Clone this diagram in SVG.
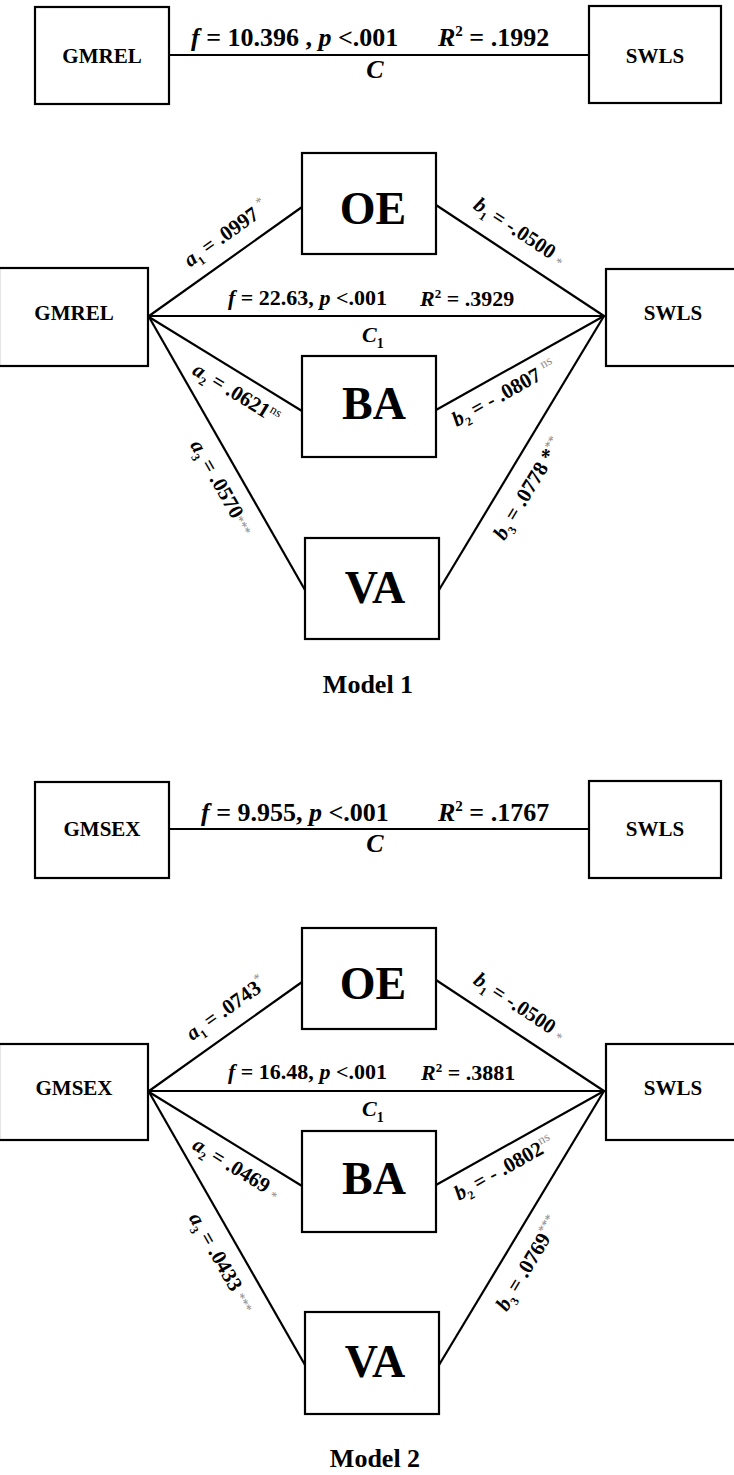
<svg xmlns="http://www.w3.org/2000/svg" width="734" height="1475" viewBox="0 0 734 1475">
<style>
.box{fill:#fff;stroke:#000;stroke-width:2.2}
.ln{stroke:#000;stroke-width:2.2;fill:none}
text{font-family:"Liberation Serif","Times New Roman",serif;font-weight:bold;fill:#000}
.nm{font-size:21px;text-anchor:middle}
.big{font-size:46px;text-anchor:middle}
.lb{font-size:21px;text-anchor:middle}
.st{font-size:22px}
.st2{font-size:26px}
.i{font-style:italic}
.sb{font-size:12px}
.sp{font-size:13px;fill:#8a8a8a;font-weight:normal}
.spk{font-size:13px;font-weight:normal}
.ttl{font-size:26px;text-anchor:middle}
</style>
<rect width="734" height="1475" fill="#fff"/>
<g id="connectors">
  <path class="ln" d="M169 55H589"/>
  <path class="ln" d="M148 316H606"/>
  <path class="ln" d="M149 316L302 207"/>
  <path class="ln" d="M436 205L604 316"/>
  <path class="ln" d="M149 317L302 411"/>
  <path class="ln" d="M436 410L604 316"/>
  <path class="ln" d="M149 317L305 590"/>
  <path class="ln" d="M439 590L604 316"/>
  <path class="ln" d="M169 829H589"/>
  <path class="ln" d="M148 1091H606"/>
  <path class="ln" d="M149 1091L302 982"/>
  <path class="ln" d="M436 980L604 1091"/>
  <path class="ln" d="M149 1092L302 1186"/>
  <path class="ln" d="M436 1185L604 1091"/>
  <path class="ln" d="M149 1092L305 1365"/>
  <path class="ln" d="M439 1365L604 1091"/>
</g>
<g id="gmrel-top"><rect class="box" x="35" y="7" width="134" height="97"/><text class="nm" x="102" y="63">GMREL</text></g>
<g id="swls-top"><rect class="box" x="589" y="6" width="132" height="97"/><text class="nm" x="655" y="63">SWLS</text></g>
<g id="labels-top">
  <text class="st2" x="191" y="46"><tspan class="i">f</tspan> = 10.396 , <tspan class="i">p</tspan> &lt;.001</text>
  <text class="st2" x="438" y="46"><tspan class="i">R</tspan><tspan font-size="15" dy="-10">2</tspan><tspan dy="10"> = .1992</tspan></text>
  <text class="st2 i" x="375" y="78" text-anchor="middle">C</text>
</g>
<g id="gmrel-m1"><rect class="box" x="-1" y="268" width="149" height="98"/><text class="nm" x="74" y="320">GMREL</text></g>
<g id="swls-m1"><rect class="box" x="606" y="269" width="130" height="97"/><text class="nm" x="673" y="320">SWLS</text></g>
<g id="oe-m1"><rect class="box" x="302" y="153" width="134" height="101"/><text class="big" x="373" y="224">OE</text></g>
<g id="ba-m1"><rect class="box" x="302" y="356" width="134" height="101"/><text class="big" x="374" y="419">BA</text></g>
<g id="va-m1"><rect class="box" x="305" y="538" width="134" height="101"/><text class="big" x="375" y="603">VA</text></g>
<g id="labels-m1">
  <text class="st" x="228" y="305"><tspan class="i">f</tspan> = 22.63, <tspan class="i">p</tspan> &lt;.001</text>
  <text class="st" x="420" y="306"><tspan class="i">R</tspan><tspan font-size="13" dy="-8">2</tspan><tspan dy="8"> = .3929</tspan></text>
  <text class="st" x="362" y="342"><tspan class="i">C</tspan><tspan font-size="14" dy="6">1</tspan></text>
  <text class="lb" transform="translate(230 239) rotate(-35.5)"><tspan class="i">a</tspan><tspan class="sb" dy="5">1</tspan><tspan dy="-5"> = .0997 </tspan><tspan class="sp" dy="-9">*</tspan></text>
  <text class="lb" transform="translate(516 237) rotate(33.5)"><tspan class="i">b</tspan><tspan class="sb" dy="5">1</tspan><tspan dy="-5"> = -.0500 </tspan><tspan class="sp" dy="2">*</tspan></text>
  <text class="lb" transform="translate(233 399) rotate(31.6)"><tspan class="i">a</tspan><tspan class="sb" dy="5">2</tspan><tspan dy="-5"> = .0621</tspan><tspan class="spk" dy="-8">ns</tspan></text>
  <text class="lb" transform="translate(216 491) rotate(60.3)"><tspan class="i">a</tspan><tspan class="sb" dy="5">3</tspan><tspan dy="-5"> = .0570</tspan><tspan class="sp" dy="-2">***</tspan></text>
  <text class="lb" transform="translate(507 399) rotate(-29.2)"><tspan class="i">b</tspan><tspan class="sb" dy="5">2</tspan><tspan dy="-5"> = - .0807 </tspan><tspan class="sp" dy="-9">ns</tspan></text>
  <text class="lb" transform="translate(534 492) rotate(-58.9)"><tspan class="i">b</tspan><tspan class="sb" dy="5">3</tspan><tspan dy="-5"> = .0778 *</tspan><tspan class="sp" dy="-7">**</tspan></text>
</g>
<g id="title-m1"><text class="ttl" x="368" y="693">Model 1</text></g>
<g id="gmsex-top"><rect class="box" x="35" y="782" width="134" height="96"/><text class="nm" x="102" y="836">GMSEX</text></g>
<g id="swls-top2"><rect class="box" x="589" y="781" width="132" height="97"/><text class="nm" x="655" y="836">SWLS</text></g>
<g id="labels-top2">
  <text class="st2" x="201" y="821"><tspan class="i">f</tspan> = 9.955, <tspan class="i">p</tspan> &lt;.001</text>
  <text class="st2" x="438" y="821"><tspan class="i">R</tspan><tspan font-size="15" dy="-10">2</tspan><tspan dy="10"> = .1767</tspan></text>
  <text class="st2 i" x="375" y="852" text-anchor="middle">C</text>
</g>
<g id="gmsex-m2"><rect class="box" x="-1" y="1044" width="149" height="96"/><text class="nm" x="74" y="1095">GMSEX</text></g>
<g id="swls-m2"><rect class="box" x="606" y="1044" width="130" height="96"/><text class="nm" x="673" y="1095">SWLS</text></g>
<g id="oe-m2"><rect class="box" x="302" y="928" width="134" height="101"/><text class="big" x="373" y="999">OE</text></g>
<g id="ba-m2"><rect class="box" x="302" y="1131" width="134" height="101"/><text class="big" x="374" y="1194">BA</text></g>
<g id="va-m2"><rect class="box" x="305" y="1312" width="134" height="102"/><text class="big" x="375" y="1377">VA</text></g>
<g id="labels-m2">
  <text class="st" x="228" y="1079"><tspan class="i">f</tspan> = 16.48, <tspan class="i">p</tspan> &lt;.001</text>
  <text class="st" x="421" y="1080"><tspan class="i">R</tspan><tspan font-size="13" dy="-8">2</tspan><tspan dy="8"> = .3881</tspan></text>
  <text class="st" x="362" y="1116"><tspan class="i">C</tspan><tspan font-size="14" dy="6">1</tspan></text>
  <text class="lb" transform="translate(230 1014) rotate(-35.5)"><tspan class="i">a</tspan><tspan class="sb" dy="5">1</tspan><tspan dy="-5"> = .0743</tspan><tspan class="sp" dy="-9">*</tspan></text>
  <text class="lb" transform="translate(516 1012) rotate(33.5)"><tspan class="i">b</tspan><tspan class="sb" dy="5">1</tspan><tspan dy="-5"> = -.0500 </tspan><tspan class="sp" dy="2">*</tspan></text>
  <text class="lb" transform="translate(233 1174) rotate(31.6)"><tspan class="i">a</tspan><tspan class="sb" dy="5">2</tspan><tspan dy="-5"> = .0469 </tspan><tspan class="sp" dy="2">*</tspan></text>
  <text class="lb" transform="translate(216 1266) rotate(60.3)"><tspan class="i">a</tspan><tspan class="sb" dy="5">3</tspan><tspan dy="-5"> = .0433 </tspan><tspan class="sp" dy="-2">***</tspan></text>
  <text class="lb" transform="translate(507 1174) rotate(-29.2)"><tspan class="i">b</tspan><tspan class="sb" dy="5">2</tspan><tspan dy="-5"> = - .0802</tspan><tspan class="sp" dy="-9">ns</tspan></text>
  <text class="lb" transform="translate(534 1267) rotate(-58.9)"><tspan class="i">b</tspan><tspan class="sb" dy="5">3</tspan><tspan dy="-5"> = .0769</tspan><tspan class="sp" dy="-8">***</tspan></text>
</g>
<g id="title-m2"><text class="ttl" x="375" y="1467">Model 2</text></g>
</svg>
